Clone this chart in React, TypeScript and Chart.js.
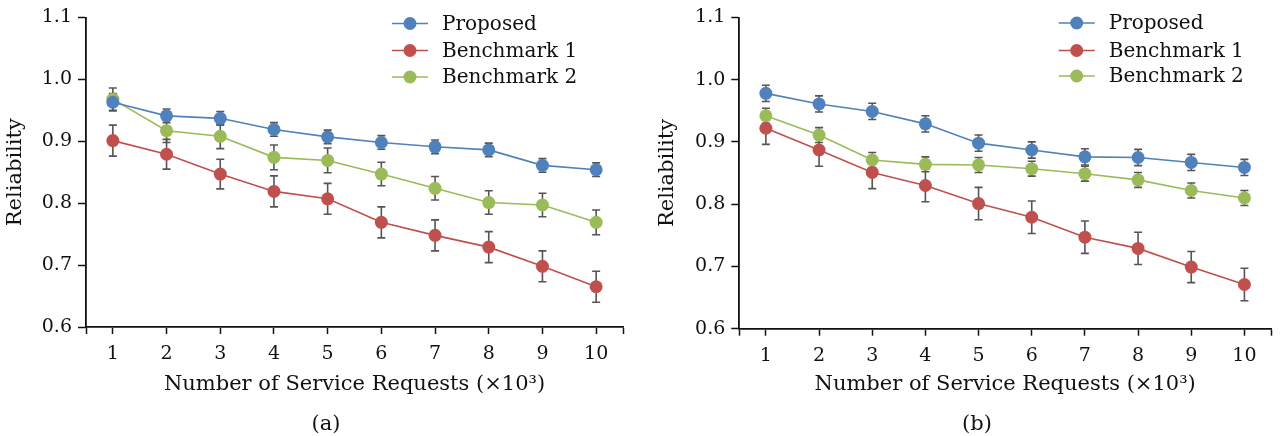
import React, { useEffect, useRef } from "react";
import { Chart, registerables } from "chart.js";

Chart.register(...registerables);

// ---------- data ----------
const requests = [1, 2, 3, 4, 5, 6, 7, 8, 9, 10];
const xTickValues = [0.5, 1, 2, 3, 4, 5, 6, 7, 8, 9, 10, 10.5];
const yTickValues = [0.6, 0.7, 0.8, 0.9, 1.0, 1.1];
const seriesNames = ["Proposed", "Benchmark 1", "Benchmark 2"];
const seriesColors = ["#4f81bd", "#c0504d", "#9bbb59"];
const xAxisTitle = "Number of Service Requests (×10³)";
const yAxisTitle = "Reliability";
const captions = ["(a)", "(b)"];

// panel (a)
const aProposed = [0.963, 0.941, 0.937, 0.919, 0.907, 0.898, 0.891, 0.886, 0.861, 0.854];
const aProposedErr = [0.014, 0.011, 0.011, 0.011, 0.011, 0.011, 0.011, 0.011, 0.011, 0.011];
const aBenchmark1 = [0.901, 0.879, 0.847, 0.819, 0.807, 0.769, 0.748, 0.729, 0.698, 0.665];
const aBenchmark1Err = [0.025, 0.024, 0.024, 0.025, 0.025, 0.025, 0.025, 0.025, 0.025, 0.025];
const aBenchmark2 = [0.968, 0.917, 0.908, 0.874, 0.869, 0.847, 0.824, 0.801, 0.797, 0.769];
const aBenchmark2Err = [0.018, 0.019, 0.02, 0.02, 0.02, 0.019, 0.019, 0.019, 0.019, 0.02];

// panel (b)
const bProposed = [0.978, 0.961, 0.949, 0.929, 0.898, 0.887, 0.876, 0.875, 0.867, 0.859];
const bProposedErr = [0.013, 0.013, 0.013, 0.013, 0.013, 0.013, 0.013, 0.013, 0.013, 0.013];
const bBenchmark1 = [0.922, 0.887, 0.851, 0.83, 0.801, 0.779, 0.747, 0.729, 0.699, 0.671];
const bBenchmark1Err = [0.026, 0.026, 0.026, 0.026, 0.026, 0.026, 0.026, 0.026, 0.025, 0.026];
const bBenchmark2 = [0.942, 0.911, 0.871, 0.864, 0.863, 0.857, 0.849, 0.839, 0.822, 0.81];
const bBenchmark2Err = [0.012, 0.012, 0.012, 0.012, 0.012, 0.012, 0.012, 0.012, 0.012, 0.012];

// ---------- styling ----------
const FONT = "'DejaVu Serif', 'Liberation Serif', serif";
const TEXT = "#111111";
const ERR_COLOR = "#555555";

type PanelLayout = {
  canvasLeft: number;
  padLeft: number;
  padTop: number;
  padRight: number;
  padBottom: number;
  yAxisWidth: number;
  xAxisHeight: number;
  xTitlePadBottom: number;
  legendX: number;
  legendYs: number[];
  captionX: number;
  captionY: number;
};

const layoutA: PanelLayout = {
  canvasLeft: 0,
  padLeft: 3,
  padTop: 17,
  padRight: 17,
  padBottom: 37,
  yAxisWidth: 83,
  xAxisHeight: 72,
  xTitlePadBottom: 1.4,
  legendX: 410,
  legendYs: [23.5, 50.5, 77],
  captionX: 326,
  captionY: 425,
};

const layoutB: PanelLayout = {
  canvasLeft: 640,
  padLeft: 15.4,
  padTop: 14.3,
  padRight: 5,
  padBottom: 35.3,
  yAxisWidth: 83.9,
  xAxisHeight: 72,
  xTitlePadBottom: 3.1,
  legendX: 436.7,
  legendYs: [23, 50.5, 76],
  captionX: 337,
  captionY: 425,
};

const decorPlugin = {
  id: "panelDecor",
  beforeDatasetsDraw(chart: any) {
    const ctx = chart.ctx;
    const yScale = chart.scales.y;
    ctx.save();
    ctx.strokeStyle = ERR_COLOR;
    ctx.lineWidth = 1.6;
    chart.data.datasets.forEach((ds: any, i: number) => {
      const meta = chart.getDatasetMeta(i);
      const errs: number[] = ds.errorBars || [];
      meta.data.forEach((pt: any, j: number) => {
        const v = ds.data[j].y;
        const e = errs[j] || 0;
        const yTop = yScale.getPixelForValue(v + e);
        const yBot = yScale.getPixelForValue(v - e);
        const x = pt.x;
        ctx.beginPath();
        ctx.moveTo(x, yTop);
        ctx.lineTo(x, yBot);
        ctx.moveTo(x - 4, yTop);
        ctx.lineTo(x + 4, yTop);
        ctx.moveTo(x - 4, yBot);
        ctx.lineTo(x + 4, yBot);
        ctx.stroke();
      });
    });
    ctx.restore();
  },
  afterDraw(chart: any, _args: any, opts: any) {
    const ctx = chart.ctx;
    ctx.save();
    // legend
    ctx.font = `20px ${FONT}`;
    ctx.textBaseline = "middle";
    ctx.textAlign = "left";
    chart.data.datasets.forEach((ds: any, i: number) => {
      const y = opts.legendYs[i];
      const x = opts.legendX;
      ctx.strokeStyle = ds.borderColor;
      ctx.lineWidth = 1.6;
      ctx.beginPath();
      ctx.moveTo(x - 18, y);
      ctx.lineTo(x + 18, y);
      ctx.stroke();
      ctx.fillStyle = ds.backgroundColor;
      ctx.beginPath();
      ctx.arc(x, y, 6.5, 0, Math.PI * 2);
      ctx.fill();
      ctx.fillStyle = TEXT;
      ctx.fillText(ds.label, x + 32, y + 1);
    });
    // caption
    ctx.font = `21px ${FONT}`;
    ctx.textAlign = "center";
    ctx.fillStyle = TEXT;
    ctx.fillText(opts.caption, opts.captionX, opts.captionY);
    ctx.restore();
  },
};

function Panel({
  values,
  errors,
  caption,
  L,
}: {
  values: number[][];
  errors: number[][];
  caption: string;
  L: PanelLayout;
}) {
  const ref = useRef<HTMLCanvasElement | null>(null);
  useEffect(() => {
    if (!ref.current) return;
    const tickFont = { family: FONT, size: 19 };
    const titleFont = { family: FONT, size: 21 };
    const chart = new Chart(ref.current, {
      type: "line",
      data: {
        datasets: values.map((vals, i) => ({
          label: seriesNames[i],
          data: vals.map((v, j) => ({ x: requests[j], y: v })),
          errorBars: errors[i],
          borderColor: seriesColors[i],
          backgroundColor: seriesColors[i],
          borderWidth: 1.6,
          pointRadius: 6.5,
          pointBorderWidth: 0,
          pointHoverRadius: 6.5,
          tension: 0,
          fill: false,
        })) as any,
      },
      options: {
        responsive: false,
        animation: false,
        events: [],
        layout: {
          padding: { left: L.padLeft, top: L.padTop, right: L.padRight, bottom: L.padBottom },
        },
        plugins: {
          legend: { display: false },
          tooltip: { enabled: false },
          title: { display: false },
          panelDecor: {
            legendX: L.legendX,
            legendYs: L.legendYs,
            caption,
            captionX: L.captionX,
            captionY: L.captionY,
          },
        } as any,
        scales: {
          x: {
            type: "linear",
            min: 0.5,
            max: 10.5,
            afterBuildTicks: (s: any) => {
              s.ticks = xTickValues.map((v) => ({ value: v }));
            },
            afterFit: (s: any) => {
              s.height = L.xAxisHeight;
            },
            ticks: {
              autoSkip: false,
              maxRotation: 0,
              padding: 9,
              color: TEXT,
              font: tickFont,
              callback: (v: any) => (Number.isInteger(v) ? String(v) : ""),
            },
            grid: {
              drawOnChartArea: false,
              drawTicks: true,
              tickLength: 7,
              tickColor: TEXT,
              tickWidth: 1.5,
            },
            border: { display: true, color: TEXT, width: 1.8 },
            title: {
              display: true,
              text: xAxisTitle,
              color: TEXT,
              font: titleFont,
              padding: { top: 0, bottom: L.xTitlePadBottom },
            },
          },
          y: {
            type: "linear",
            min: 0.6,
            max: 1.1,
            afterBuildTicks: (s: any) => {
              s.ticks = yTickValues.map((v) => ({ value: v }));
            },
            afterFit: (s: any) => {
              s.width = L.yAxisWidth;
            },
            ticks: {
              autoSkip: false,
              padding: 6,
              color: TEXT,
              font: tickFont,
              callback: (v: any) => Number(v).toFixed(1),
            },
            grid: {
              drawOnChartArea: false,
              drawTicks: true,
              tickLength: 8,
              tickColor: TEXT,
              tickWidth: 1.5,
            },
            border: { display: true, color: TEXT, width: 1.8 },
            title: {
              display: true,
              text: yAxisTitle,
              color: TEXT,
              font: titleFont,
              padding: { top: 0, bottom: 0 },
            },
          },
        },
      },
      plugins: [decorPlugin as any],
    });
    return () => chart.destroy();
  }, []);
  return (
    <canvas
      ref={ref}
      width={640}
      height={436}
      style={{ position: "absolute", left: L.canvasLeft, top: 0, width: 640, height: 436, display: "block" }}
    />
  );
}

export default function App() {
  return (
    <div style={{ position: "fixed", left: 0, top: 0, width: 1280, height: 436, background: "#ffffff" }}>
      <Panel
        values={[aProposed, aBenchmark1, aBenchmark2]}
        errors={[aProposedErr, aBenchmark1Err, aBenchmark2Err]}
        caption={captions[0]}
        L={layoutA}
      />
      <Panel
        values={[bProposed, bBenchmark1, bBenchmark2]}
        errors={[bProposedErr, bBenchmark1Err, bBenchmark2Err]}
        caption={captions[1]}
        L={layoutB}
      />
    </div>
  );
}
